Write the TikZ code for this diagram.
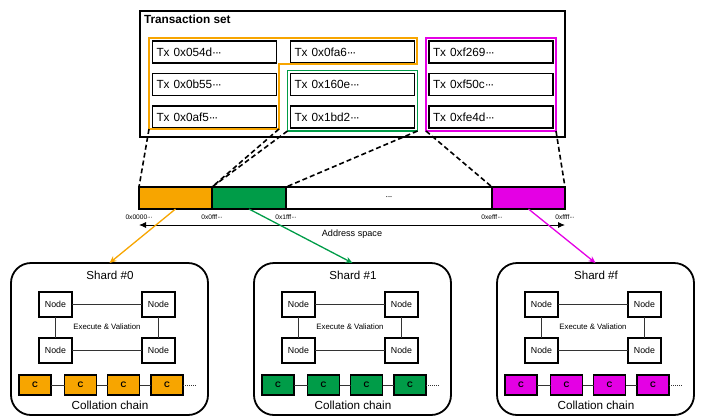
\documentclass[tikz,border=0pt]{standalone}
\usepackage{fontspec}
\setmainfont{Liberation Sans}
\usetikzlibrary{arrows.meta,positioning,fit}

\definecolor{shorange}{RGB}{247,165,0}
\definecolor{shgreen}{RGB}{0,156,72}
\definecolor{shmagenta}{RGB}{228,0,228}

\newcommand{\fsz}[1]{\fontsize{#1}{#1}\selectfont}
% tight row of middle dots
\newcommand{\mdots}{·\kern-0.1em·\kern-0.1em·}

\begin{document}
\begin{tikzpicture}[x=1pt, y=-1pt, every node/.style={outer sep=0pt},
    txbox/.style={draw, line width=1.8pt, text width=116pt, align=left,
                  minimum height=22pt, inner sep=4pt, font=\fsz{11.8}},
    seg/.style={draw, line width=1.8pt, minimum height=22pt, inner sep=0pt},
    addr/.style={inner sep=0pt, font=\fsz{6.6}},
    shardbox/.style={draw, line width=1.8pt, rounded corners=20pt,
                     minimum width=197pt, minimum height=152pt},
    peer/.style={draw, line width=1.5pt, fill=white, minimum width=33pt,
                 minimum height=25pt, inner sep=1pt, font=\fsz{8.8}},
    cbox/.style={draw, line width=1.8pt, minimum width=32pt, minimum height=20pt,
                 inner sep=0pt, font=\bfseries\fsz{8}},
    link/.style={line width=0.8pt, black!80}]
    \useasboundingbox (0,0) rectangle (702,416);

    % Transaction set with grouped transactions
    \node[draw, line width=1.8pt, minimum width=425pt, minimum height=126pt] (txset) at (352.5,74) {};
    \node[anchor=west, inner sep=0pt, font=\bfseries\fsz{11.8}] (txtitle) at (144,19) {Transaction set};

    \node[txbox] (tx054d) at (214.5,52) {Tx 0x054d\mdots};
    \node[txbox, below=10.5pt of tx054d] (tx0b55) {Tx 0x0b55\mdots};
    \node[txbox, below=10.5pt of tx0b55] (tx0af5) {Tx 0x0af5\mdots};
    \node[txbox, right=14pt of tx054d] (tx0fa6) {Tx 0x0fa6\mdots};
    \node[txbox, below=10.5pt of tx0fa6] (tx160e) {Tx 0x160e\mdots};
    \node[txbox, below=10.5pt of tx160e] (tx1bd2) {Tx 0x1bd2\mdots};
    \node[txbox, right=14.5pt of tx0fa6] (txf269) {Tx 0xf269\mdots};
    \node[txbox, below=10.5pt of txf269] (txf50c) {Tx 0xf50c\mdots};
    \node[txbox, below=10.5pt of txf50c] (txfe4d) {Tx 0xfe4d\mdots};

    % Shard groups
    \draw[shorange, line width=1.8pt] (149,38) -- (417,38) -- (417,64) -- (279,64)
        -- (279,129) -- (149,129) -- cycle;
    \coordinate (grpL) at (149,129);
    \coordinate (grpR) at (279,129);
    \node[draw=shgreen, line width=1.8pt, inner sep=3pt, fit=(tx160e)(tx1bd2)] (grpgreen) {};
    \node[draw=shmagenta, line width=1.8pt, inner sep=3pt, fit=(txf269)(txfe4d)] (grpmag) {};

    % Address space bar
    \node[seg, fill=shorange, minimum width=73pt, anchor=west] (seg0) at (139,198) {};
    \node[seg, fill=shgreen, minimum width=74pt, right=0pt of seg0] (seg1) {};
    \node[seg, fill=white, minimum width=206pt, right=0pt of seg1, font=\fsz{9}] (segdots) {\mdots};
    \node[seg, fill=shmagenta, minimum width=73pt, right=0pt of segdots] (segf) {};

    \draw[dashed, dash pattern=on 5pt off 3pt, line width=1.6pt] (grpL) -- (seg0.north west);
    \draw[dashed, dash pattern=on 5pt off 3pt, line width=1.6pt] (grpR) -- (seg0.north east);
    \draw[dashed, dash pattern=on 5pt off 3pt, line width=1.6pt] (grpgreen.south west) -- (seg1.north west);
    \draw[dashed, dash pattern=on 5pt off 3pt, line width=1.6pt] (grpgreen.south east) -- (seg1.north east);
    \draw[dashed, dash pattern=on 5pt off 3pt, line width=1.6pt] (grpmag.south west) -- (segf.north west);
    \draw[dashed, dash pattern=on 5pt off 3pt, line width=1.6pt] (grpmag.south east) -- (segf.north east);

    \node[addr, below=6pt of seg0.south west] (a0000) {0x0000\mdots};
    \node[addr, below=6pt of seg0.south east] (a0fff) {0x0fff\mdots};
    \node[addr, below=6pt of seg1.south east] (a1fff) {0x1fff\mdots};
    \node[addr, below=6pt of segf.south west] (aefff) {0xefff\mdots};
    \node[addr, below=6pt of segf.south east] (affff) {0xffff\mdots};

    \coordinate (spL) at (139,225);
    \coordinate (spR) at (565,225);
    \draw[{Latex[length=7pt,width=6pt]}-{Latex[length=7pt,width=6pt]}, line width=0.9pt] (spL) -- (spR);
    \node[font=\fsz{9.1}] (spc) at (352,234) {Address space};

    % Shards with their nodes and collation chains
    \foreach \sx/\sid/\scol in {0/0/shorange, 243/1/shgreen, 486/f/shmagenta} {
      \begin{scope}[xshift=\sx]
        \node[shardbox] (shard\sid) at (109.5,339) {};
        \node[font=\fsz{11.6}] (stitle\sid) at (110,275) {Shard \#\sid};
        \node[peer] (na\sid) at (55.5,304.5) {Node};
        \node[peer] (nb\sid) at (158.5,304.5) {Node};
        \node[peer] (nc\sid) at (55.5,350.5) {Node};
        \node[peer] (nd\sid) at (158.5,350.5) {Node};
        \draw[link] (na\sid) -- (nb\sid);
        \draw[link] (nc\sid) -- (nd\sid);
        \draw[link] (na\sid) -- (nc\sid);
        \draw[link] (nb\sid) -- (nd\sid);
        \node[font=\fsz{7.8}] (exec\sid) at (107,327) {Execute \& Valiation};

        \node[cbox, fill=\scol] (ca\sid) at (35,385) {C};
        \node[cbox, fill=\scol] (cb\sid) at (80.5,385) {C};
        \node[cbox, fill=\scol] (cc\sid) at (123.5,385) {C};
        \node[cbox, fill=\scol] (cd\sid) at (167,385) {C};
        \coordinate (cend\sid) at (197,385);
        \draw[link] (ca\sid) -- (cb\sid);
        \draw[link] (cb\sid) -- (cc\sid);
        \draw[link] (cc\sid) -- (cd\sid);
        \draw[link, dash pattern=on 1pt off 1pt] (cd\sid) -- (cend\sid);
        \node[font=\fsz{11.7}] (chain\sid) at (110,405) {Collation chain};
      \end{scope}
    }

    % Mapping from address ranges to shards
    \draw[-{Stealth[length=7pt,width=6pt]}, shorange, line width=1.3pt] (seg0.south) -- (shard0.north);
    \draw[-{Stealth[length=7pt,width=6pt]}, shgreen, line width=1.3pt] (seg1.south) -- (shard1.north);
    \draw[-{Stealth[length=7pt,width=6pt]}, shmagenta, line width=1.3pt] (segf.south) -- (shardf.north);
\end{tikzpicture}
\end{document}
